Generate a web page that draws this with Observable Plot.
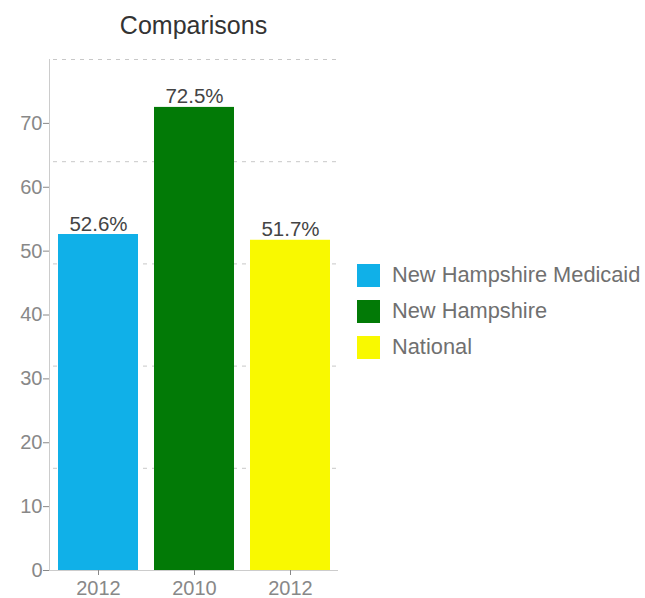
<!DOCTYPE html>
<html><head><meta charset="utf-8">
<script src="https://cdn.jsdelivr.net/npm/d3@7"></script>
<script src="https://cdn.jsdelivr.net/npm/@observablehq/plot@0.6"></script>
<style>
body{margin:0;background:#fff;font-family:"Liberation Sans",Arial,sans-serif;}
#wrap{position:relative;width:645px;height:598px;}
#title{position:absolute;left:49px;width:289px;top:11px;text-align:center;font-size:25px;color:#333;}
#legend{position:absolute;left:357px;top:257px;}
.item{display:flex;align-items:center;height:36px;}
.sw{width:23px;height:23px;margin-right:12px;}
.lab{font-size:21.8px;color:#707070;}
</style></head>
<body>
<div id="wrap"><div id="title">Comparisons</div><div id="chart"></div><div id="legend"></div></div>
<script>
const series = ["New Hampshire Medicaid", "New Hampshire", "National"];
const years = ["2012", "2010", "2012"];
const values = [52.6, 72.5, 51.7];
const colors = ["#10b0e8", "#027a06", "#f9f900"];
const yTicks = [0, 10, 20, 30, 40, 50, 60, 70];
const gridVals = [16, 32, 48, 64, 80];

const data = series.map((s, i) => ({series: s, year: years[i], value: values[i]}));
const yearOf = Object.fromEntries(data.map(d => [d.series, d.year]));

const chart = Plot.plot({
  width: 645,
  height: 598,
  marginLeft: 49,
  marginRight: 307,
  marginTop: 59,
  marginBottom: 28,
  style: {fontFamily: "'Liberation Sans', Arial, sans-serif", fontSize: "20px", background: "#fff"},
  x: {domain: series, paddingInner: 1/6, paddingOuter: 1/12},
  y: {domain: [0, 80]},
  color: {domain: series, range: colors},
  marks: [
    Plot.ruleY(gridVals, {stroke: "#c8c8c8", strokeDasharray: "4,5", insetLeft: 4}),
    Plot.barY(data, {x: "series", y: "value", fill: "series"}),
    Plot.ruleY([0], {stroke: "#ccc"}),
    Plot.frame({anchor: "left", stroke: "#ccc"}),
    Plot.text(data, {x: "series", y: "value", text: d => d.value.toFixed(1) + "%", lineAnchor: "bottom", dy: -4, fill: "#444", fontSize: 20.5}),
    Plot.axisY({ticks: yTicks, tickSize: 6, tickPadding: 1, color: "#888", label: null, fontSize: 20}),
    Plot.axisX({tickFormat: d => yearOf[d], tickSize: 5, tickPadding: 5, color: "#888", label: null, fontSize: 20})
  ]
});
document.getElementById("chart").appendChild(chart);

const leg = document.getElementById("legend");
series.forEach((s, i) => {
  const row = document.createElement("div");
  row.className = "item";
  row.innerHTML = `<div class="sw" style="background:${colors[i]}"></div><span class="lab">${s}</span>`;
  leg.appendChild(row);
});
</script>
</body></html>
